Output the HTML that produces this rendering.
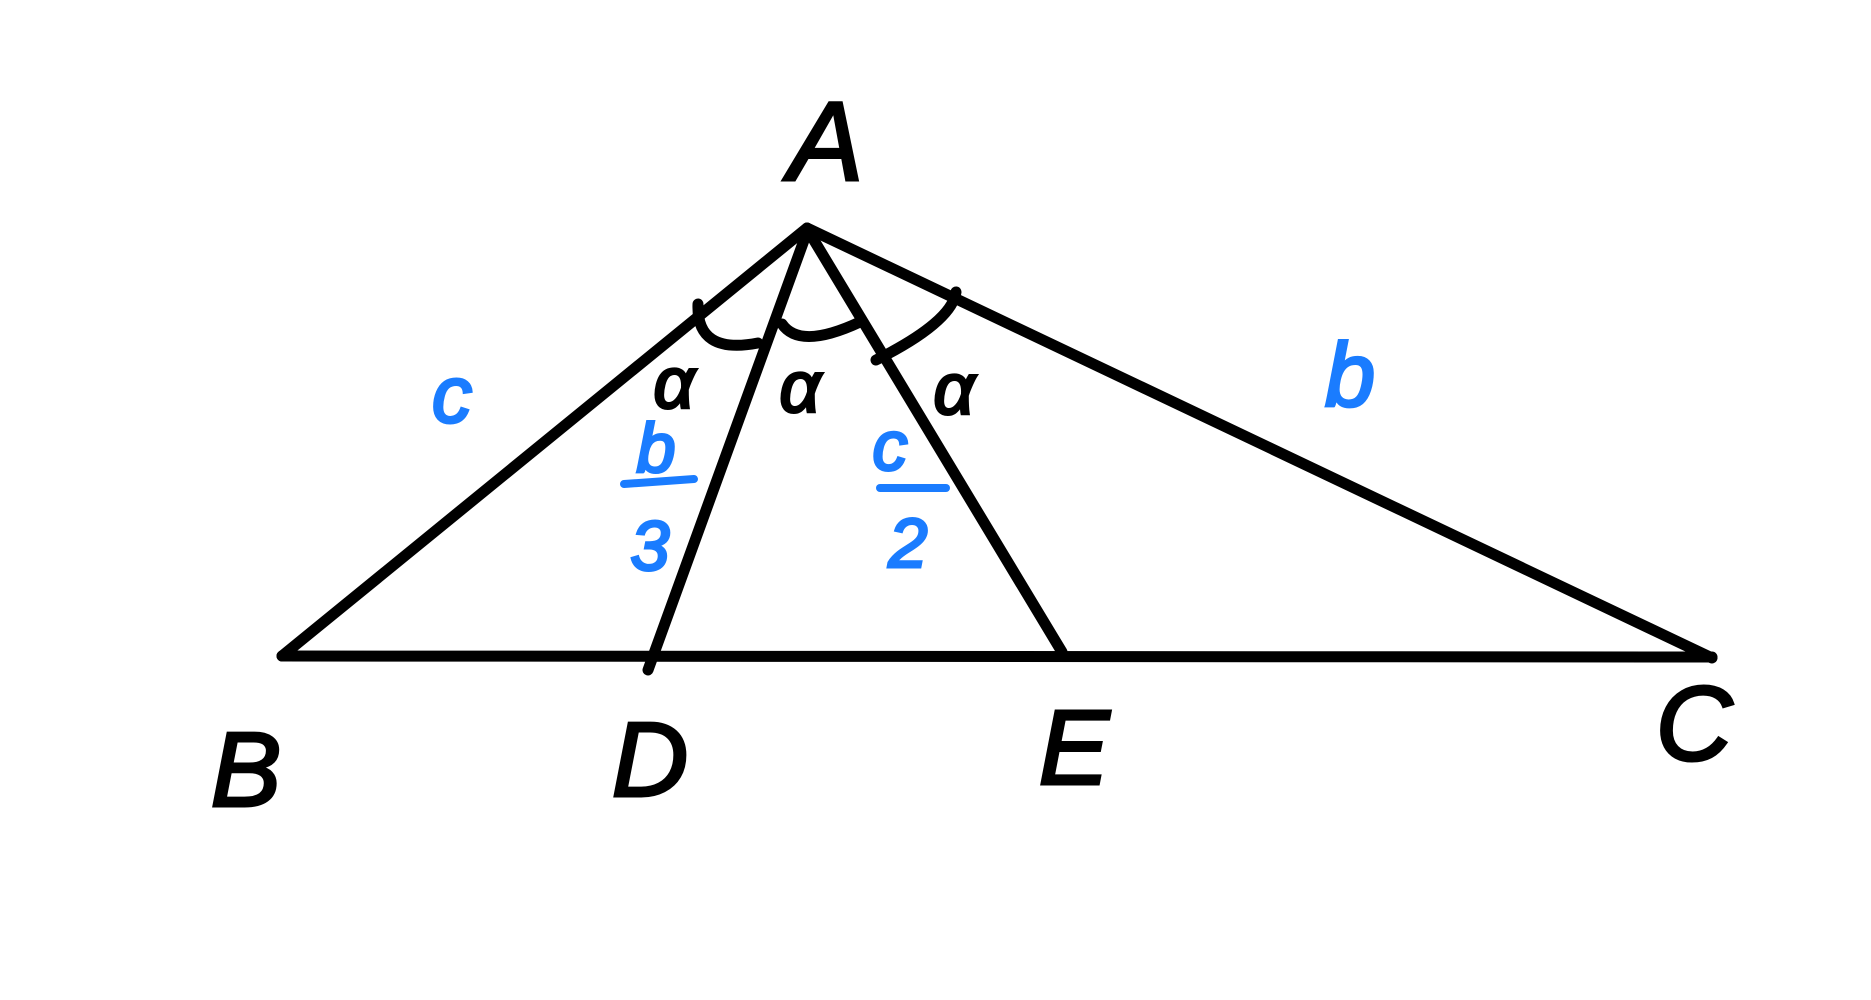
<!DOCTYPE html>
<html><head><meta charset="utf-8"><style>html,body{margin:0;padding:0;background:#fff}svg{display:block}</style></head>
<body>
<svg width="1871" height="1000" viewBox="0 0 1871 1000" xmlns="http://www.w3.org/2000/svg">
<g stroke="#000" stroke-width="11" stroke-linecap="round" fill="none">
<line x1="807" y1="228" x2="282" y2="656"/>
<line x1="807" y1="228" x2="1712" y2="658"/>
<line x1="282" y1="656" x2="1712" y2="657"/>
<line x1="807" y1="232" x2="648" y2="670"/>
<line x1="809" y1="232" x2="1062" y2="652"/>
<path d="M698 304 Q696 355 758 343"/>
<path d="M782 324 Q800 350 860 322"/>
<path d="M956 292 Q952 322 876 360"/>
</g>
<g font-family="Liberation Sans, sans-serif" font-style="italic" text-anchor="middle" stroke="#000" stroke-width="3">
<text x="826" y="180" font-size="112">A</text>
<text x="246" y="806" font-size="106">B</text>
<text x="650" y="796" font-size="106">D</text>
<text x="1074" y="784" font-size="106">E</text>
<text x="1694" y="760" font-size="106">C</text>
<text x="674" y="408" font-size="72">α</text>
<text x="800" y="412" font-size="72">α</text>
<text x="954" y="414" font-size="72">α</text>
</g>
<g font-family="Liberation Sans, sans-serif" font-style="italic" text-anchor="middle" fill="#1a7cff" stroke="#1a7cff" stroke-width="3">
<text x="452" y="422" font-size="80">c</text>
<text x="1350" y="406" font-size="90">b</text>
<text x="656" y="472" font-size="70">b</text>
<text x="650" y="570" font-size="70">3</text>
<text x="890" y="470" font-size="70">c</text>
<text x="908" y="567" font-size="70">2</text>
</g>
<g stroke="#1a7cff" stroke-width="8" stroke-linecap="round">
<line x1="624" y1="484" x2="694" y2="479"/>
<line x1="880" y1="488" x2="946" y2="488"/>
</g>
</svg>
</body></html>
